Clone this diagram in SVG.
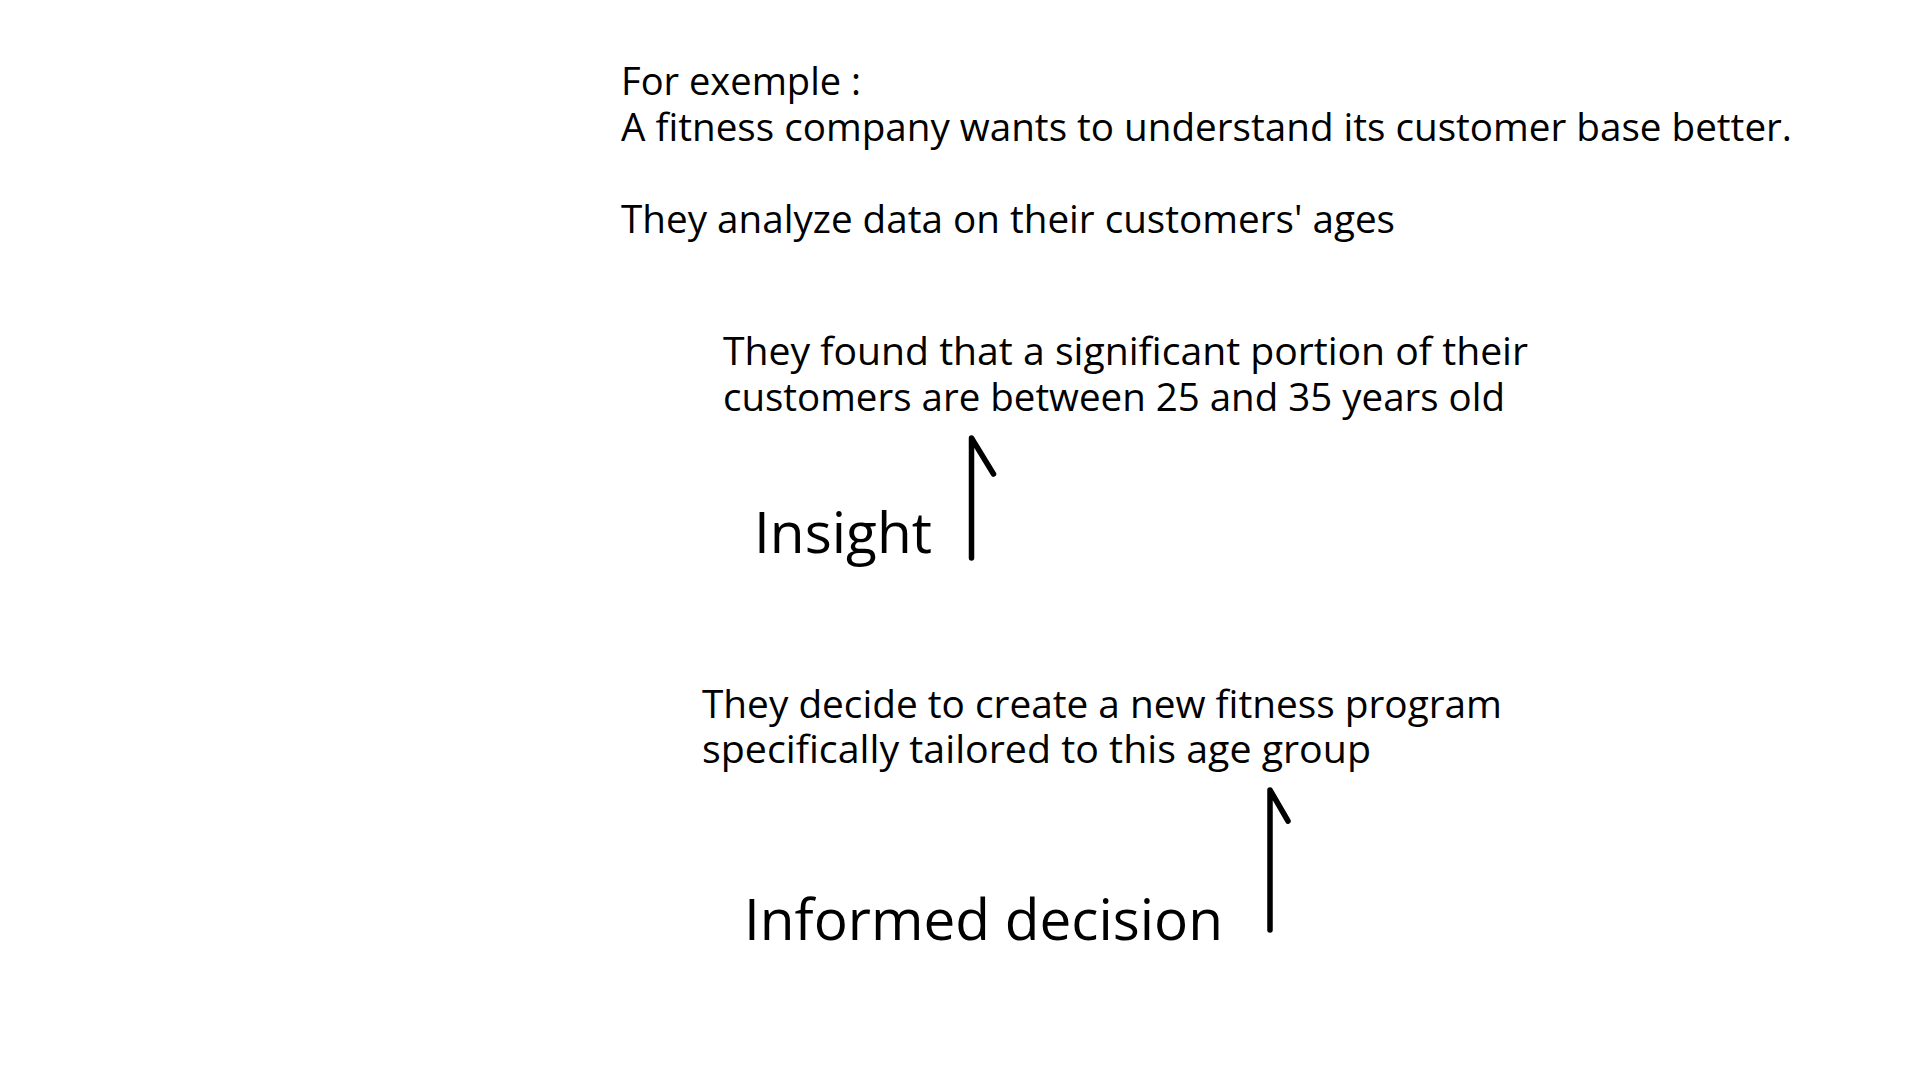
<svg xmlns="http://www.w3.org/2000/svg" width="1920" height="1080" viewBox="0 0 1920 1080">
<style>
text { font-family: "Open Sans", "Noto Sans", "DejaVu Sans", sans-serif; fill: #000; }
.body { font-size: 38px; }
.big { font-size: 56px; }
.arrow { fill: none; stroke: #000; stroke-width: 5.5; stroke-linecap: round; stroke-linejoin: round; }
</style>
<rect width="1920" height="1080" fill="#fff"/>
<g id="intro">
<text class="body" x="621" y="95" textLength="240" lengthAdjust="spacingAndGlyphs">For exemple :</text>
<text class="body" x="621" y="141" textLength="1171" lengthAdjust="spacingAndGlyphs">A fitness company wants to understand its customer base better.</text>
<text class="body" x="621" y="233" textLength="774" lengthAdjust="spacingAndGlyphs">They analyze data on their customers' ages</text>
</g>
<g id="finding">
<text class="body" x="723" y="365" textLength="805" lengthAdjust="spacingAndGlyphs">They found that a significant portion of their</text>
<text class="body" x="723" y="411" textLength="782" lengthAdjust="spacingAndGlyphs">customers are between 25 and 35 years old</text>
</g>
<g id="insight">
<text class="big" x="754" y="553" textLength="178" lengthAdjust="spacingAndGlyphs">Insight</text>
</g>
<g id="decision">
<text class="body" x="702" y="718" textLength="800" lengthAdjust="spacingAndGlyphs">They decide to create a new fitness program</text>
<text class="body" x="702" y="763" textLength="669" lengthAdjust="spacingAndGlyphs">specifically tailored to this age group</text>
</g>
<g id="informed-decision">
<text class="big" x="744" y="940" textLength="479" lengthAdjust="spacingAndGlyphs">Informed decision</text>
</g>
<g id="connectors">
<path class="arrow" d="M971.5 558 L971.5 438 L993.5 474"/>
<path class="arrow" d="M1270 930 L1270 790 L1288 821"/>
</g>
</svg>
